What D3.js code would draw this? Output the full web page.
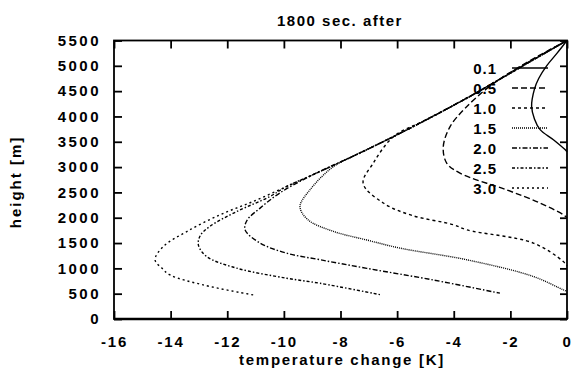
<!DOCTYPE html>
<html>
<head>
<meta charset="utf-8">
<script src="https://cdn.jsdelivr.net/npm/d3@7"></script>
<style>
  body { margin: 0; background: #fff; }
  text { font-family: "Liberation Sans", Arial, sans-serif; font-weight: bold; fill: #000; }
</style>
</head>
<body>
<script>
// data: [temperature change K, height m]
var s01 = [[0,5500],[-0.35,5250],[-0.72,5000],[-1.0,4750],[-1.15,4540],[-1.25,4200],[-1.15,3950],[-0.95,3740],[-0.48,3540],[-0.07,3345],[0,3300]];
var s05 = [[0,5500],[-1.5,5040],[-2.72,4600],[-3.6,4160],[-4.13,3800],[-4.37,3400],[-4.25,3080],[-3.78,2880],[-2.13,2550],[-0.95,2290],[-0.13,2060],[0,2000]];
var s10 = [[0,5500],[-1.5,5030],[-3.32,4430],[-5.0,3930],[-6.13,3600],[-6.84,3080],[-7.2,2680],[-6.49,2290],[-5.5,2050],[-4.0,1860],[-3.54,1760],[-1.19,1500],[-0.13,1135],[0,1050]];
var s15 = [[0,5500],[-1.5,5020],[-3.32,4430],[-5.5,3780],[-7.31,3280],[-8.25,3010],[-9.08,2550],[-9.43,2220],[-9.15,1960],[-8.25,1730],[-7.07,1560],[-5.9,1400],[-3.54,1170],[-1.19,840],[-0.13,575],[0,545]];
var s20 = [[0,5500],[-1.5,5020],[-3.32,4430],[-5.5,3780],[-7.31,3280],[-8.97,2850],[-10.14,2490],[-10.84,2190],[-11.3,1950],[-11.37,1760],[-10.84,1500],[-9.9,1300],[-8.72,1170],[-7.07,1000],[-4.72,770],[-2.37,510]];
var s25 = [[0,5500],[-1.5,5020],[-3.32,4430],[-5.5,3780],[-7.31,3280],[-8.97,2850],[-9.9,2617],[-10.49,2420],[-11.67,2120],[-12.61,1830],[-12.95,1650],[-13.02,1465],[-12.73,1235],[-11.67,1005],[-9.9,805],[-8.72,705],[-6.55,475]];
var s30 = [[0,5500],[-1.5,5020],[-3.32,4430],[-5.5,3780],[-7.31,3280],[-8.97,2850],[-9.9,2617],[-11.09,2320],[-12.26,2057],[-13.43,1727],[-14.26,1430],[-14.55,1170],[-14.3,1000],[-14.02,870],[-12.85,673],[-11.08,475]];

var seriesData = [s01, s05, s10, s15, s20, s25, s30];
var seriesLabels = ["0.1", "0.5", "1.0", "1.5", "2.0", "2.5", "3.0"];
var dashes = ["none", "6,3", "3,3", "1,1", "5,2,1.5,2", "3,2,1.5,2", "2,3"];

var xTicks = [-16, -14, -12, -10, -8, -6, -4, -2, 0];
var yTicks = [0, 500, 1000, 1500, 2000, 2500, 3000, 3500, 4000, 4500, 5000, 5500];

var svgWidth = 572;
var svgHeight = 369;
var margin = { top: 40.5, right: 5, bottom: 50, left: 114 };
var width = svgWidth - margin.left - margin.right;
var height = svgHeight - margin.top - margin.bottom;

var svg = d3.select("body").append("svg")
  .attr("width", svgWidth)
  .attr("height", svgHeight);

var chartGroup = svg.append("g")
  .attr("transform", `translate(${margin.left}, ${margin.top})`);

var xScale = d3.scaleLinear().domain([-16, 0]).range([0, width]);
var yScale = d3.scaleLinear().domain([0, 5500]).range([height, 0]);

// axes with inward ticks on all four sides (plain hyphen for minus)
var bottomAxis = d3.axisBottom(xScale).tickValues(xTicks).tickSize(-8).tickPadding(17).tickFormat(d => String(d));
var topAxis = d3.axisTop(xScale).tickValues(xTicks).tickSize(-8).tickFormat("");
var leftAxis = d3.axisLeft(yScale).tickValues(yTicks).tickSize(-8).tickPadding(13).tickFormat(d => String(d));
var rightAxis = d3.axisRight(yScale).tickValues(yTicks).tickSize(-7).tickFormat("");

function styleAxis(g) {
  g.select(".domain").remove();
  g.selectAll(".tick line").attr("stroke", "#000").attr("stroke-width", 1.8);
  g.selectAll("text").attr("font-size", "15px").attr("font-family", null).attr("fill", "#000");
}

chartGroup.append("g").attr("transform", `translate(0, ${height})`).call(bottomAxis).call(styleAxis)
  .selectAll("text").style("letter-spacing", "1.8px");
chartGroup.append("g").call(topAxis).call(styleAxis);
chartGroup.append("g").call(leftAxis).call(styleAxis)
  .selectAll("text").style("letter-spacing", "2.5px");
chartGroup.append("g").attr("transform", `translate(${width}, 0)`).call(rightAxis).call(styleAxis);

// frame
chartGroup.append("rect")
  .attr("width", width)
  .attr("height", height)
  .attr("fill", "none")
  .attr("stroke", "#000")
  .attr("stroke-width", 1.8);
chartGroup.append("line")
  .attr("x1", 0).attr("x2", width)
  .attr("y1", height).attr("y2", height)
  .attr("stroke", "#000").attr("stroke-width", 2.4);

// curves
var line = d3.line()
  .x(d => xScale(d[0]))
  .y(d => yScale(d[1]))
  .curve(d3.curveCatmullRom.alpha(0.5));

chartGroup.selectAll(".curve")
  .data(seriesData)
  .enter()
  .append("path")
  .attr("class", "curve")
  .attr("d", d => line(d))
  .attr("fill", "none")
  .attr("stroke", "#000")
  .attr("stroke-width", 1.4)
  .attr("stroke-dasharray", (d, i) => dashes[i]);

// legend
var legend = chartGroup.append("g")
  .attr("transform", `translate(${497 - margin.left}, ${68 - margin.top})`);

seriesLabels.forEach(function(lab, i) {
  legend.append("text")
    .attr("x", 0)
    .attr("y", i * 20 + 5.5)
    .attr("text-anchor", "end")
    .attr("font-size", "15px")
    .style("letter-spacing", "1px")
    .text(lab);
  legend.append("line")
    .attr("x1", 15).attr("x2", 51)
    .attr("y1", i * 20).attr("y2", i * 20)
    .attr("stroke", "#000")
    .attr("stroke-width", 1.4)
    .attr("stroke-dasharray", dashes[i]);
});

// title and axis labels
svg.append("text")
  .attr("x", 340)
  .attr("y", 26)
  .attr("text-anchor", "middle")
  .attr("font-size", "15px")
  .style("letter-spacing", "1.5px")
  .text("1800 sec. after");

svg.append("text")
  .attr("x", 342)
  .attr("y", 365)
  .attr("text-anchor", "middle")
  .attr("font-size", "15px")
  .style("letter-spacing", "1.7px")
  .text("temperature change [K]");

svg.append("text")
  .attr("transform", "translate(21, 182) rotate(-90)")
  .attr("text-anchor", "middle")
  .attr("font-size", "15px")
  .style("letter-spacing", "2px")
  .text("height [m]");
</script>
</body>
</html>
